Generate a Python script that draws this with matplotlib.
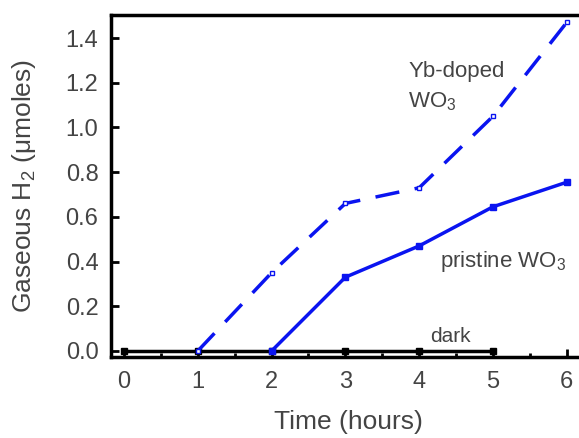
import matplotlib.pyplot as plt
from matplotlib.ticker import MultipleLocator

plt.rcParams['font.family'] = ['Liberation Sans', 'DejaVu Sans']
plt.rcParams['mathtext.default'] = 'regular'

hours = [0, 1, 2, 3, 4, 5, 6]
dark_t = [0, 1, 2, 3, 4, 5]
dark_h2 = [0, 0, 0, 0, 0, 0]
yb_t = [1, 2, 3, 4, 5, 6]
yb_h2 = [0.0, 0.35, 0.66, 0.73, 1.05, 1.47]
pristine_t = [2, 3, 4, 5, 6]
pristine_h2 = [0.0, 0.33, 0.47, 0.645, 0.755]

txt = '#444444'
blue = '#0a14f0'

fig = plt.figure(figsize=(5.79, 4.38), dpi=100)
ax = fig.add_axes([111 / 579, (438 - 357) / 438, (585 - 111) / 579, (357 - 15) / 438])

ax.plot(dark_t, dark_h2, color='black', lw=2.5, marker='s', ms=5)
ax.plot(yb_t, yb_h2, color=blue, lw=2.5, ls=(0, (7, 4.5)), marker='s', ms=3.5,
        mfc='white', mec=blue, mew=1)
ax.plot(pristine_t, pristine_h2, color=blue, lw=2.5, marker='s', ms=4.5)

ax.text(3.85, 1.18, 'Yb-doped\nWO$_3$', color=txt, fontsize=16, va='center', linespacing=1.5)
ax.text(4.28, 0.40, 'pristine WO$_3$', color=txt, fontsize=16, va='center')
ax.text(4.15, 0.065, 'dark', color=txt, fontsize=15, va='center')

ax.set_xlim(-0.176, 6.247)
ax.set_ylim(-0.027, 1.503)
ax.xaxis.set_major_locator(MultipleLocator(1))
ax.xaxis.set_minor_locator(MultipleLocator(0.5))
ax.set_yticks([0, 0.2, 0.4, 0.6, 0.8, 1.0, 1.2, 1.4])
ax.set_yticklabels(['0.0', '0.2', '0.4', '0.6', '0.8', '1.0', '1.2', '1.4'])
ax.tick_params(which='both', direction='in', width=2, colors='black', labelcolor=txt, labelsize=17)
ax.tick_params(which='major', length=6)
ax.tick_params(which='minor', length=3)
ax.tick_params(axis='y', which='minor', left=False)
ax.tick_params(axis='y', pad=9)
ax.tick_params(axis='x', pad=10)
for s in ax.spines.values():
    s.set_linewidth(2.5)

ax.set_xlabel('Time (hours)', fontsize=19, color=txt, labelpad=12)
ax.set_ylabel('Gaseous H$_2$ (\u03bcmoles)', fontsize=19, color=txt, labelpad=20)

fig.savefig('out.png', dpi=100)
